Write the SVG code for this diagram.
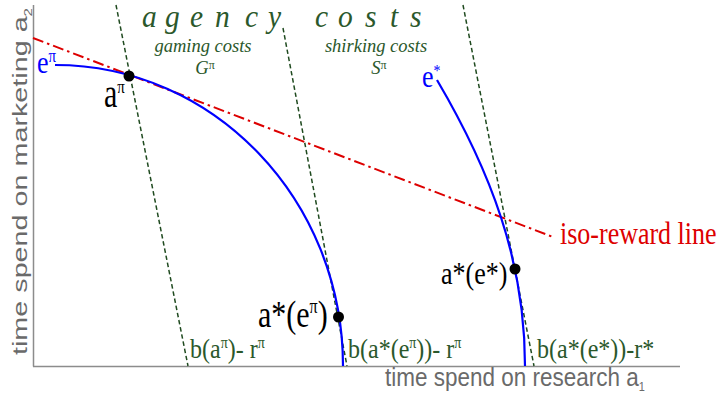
<svg xmlns="http://www.w3.org/2000/svg" width="719" height="394" viewBox="0 0 719 394">
<style>
.ax{stroke:#8c8c8c;stroke-width:1.5;fill:none}
.axl{fill:#6a6a6a}
.curve{stroke:#0000ff;stroke-width:2.2;fill:none}
.bud{stroke:#1f4a1f;stroke-width:1.5;stroke-dasharray:4.5 2.8;fill:none}
.iso{stroke:#dd0000;stroke-width:2;stroke-dasharray:11 4 2.5 4;fill:none}
.it{font-style:italic}
.g{fill:#2b582b}
.b{fill:#0000ff}
.k{fill:#000000}
.r{fill:#dd0000}
.dot{fill:#000000}
</style>
<rect width="719" height="394" fill="#ffffff"/>
<g id="axes">
  <line class="ax" x1="33.5" y1="5" x2="33.5" y2="366.5"/>
  <line class="ax" x1="33" y1="366.5" x2="680" y2="366.5"/>
  <text class="axl" font-family="Liberation Sans, Arial, sans-serif" font-size="21" transform="translate(27,355) rotate(-90)" textLength="347" lengthAdjust="spacingAndGlyphs">time spend on marketing a<tspan font-size="11" dy="5">2</tspan></text>
  <text class="axl" font-family="Liberation Sans, Arial, sans-serif" font-size="22.5" transform="translate(385,386) scale(1,1.15)">time spend on research a<tspan font-size="11" dy="4">1</tspan></text>
</g>
<g id="title" font-family="Liberation Serif, Times New Roman, serif">
  <text class="it g" font-size="29.5" transform="translate(0,27) scale(1,1.05)" x="142 165 190 215 245 268 292 315 338 365 390 410">agency costs</text>
  <text class="it g" font-size="18.5" text-anchor="middle" transform="translate(203,51.5) scale(1,1.02)">gaming costs</text>
  <text class="g" font-size="18.5" text-anchor="middle" transform="translate(205,74) scale(1,1.05)"><tspan class="it">G</tspan><tspan font-size="12" dy="-5">π</tspan></text>
  <text class="it g" font-size="18.5" text-anchor="middle" transform="translate(376,51.5) scale(1,1.02)">shirking costs</text>
  <text class="g" font-size="18.5" text-anchor="middle" transform="translate(379,74) scale(1,1.05)"><tspan class="it">S</tspan><tspan font-size="12" dy="-5">π</tspan></text>
</g>
<g id="connectors">
  <line id="budget-pi" class="bud" x1="116" y1="5" x2="188" y2="366"/>
  <line id="budget-a-star-pi" class="bud" x1="283" y1="28" x2="347" y2="366"/>
  <line id="budget-a-star-star" class="bud" x1="463" y1="5" x2="534" y2="366"/>
  <line id="iso-reward" class="iso" x1="33" y1="38" x2="553" y2="237"/>
</g>
<g id="curve-e-pi" font-family="Liberation Serif, Times New Roman, serif">
  <path class="curve" d="M55,65 C214,65 343,200 343,366"/>
  <text class="b" font-size="26" transform="translate(37,73) scale(1,1.2)">e<tspan font-size="15" dy="-9">π</tspan></text>
</g>
<g id="curve-e-star" font-family="Liberation Serif, Times New Roman, serif">
  <path class="curve" d="M437,80 C490,170 525,260 525,366"/>
  <text class="b" font-size="26" transform="translate(422,87) scale(1,1.2)">e<tspan font-size="14" dy="-9">*</tspan></text>
</g>
<g id="point-a-pi" font-family="Liberation Serif, Times New Roman, serif">
  <circle class="dot" cx="129" cy="76" r="5.5"/>
  <text class="k" font-size="30" transform="translate(104,107) scale(1,1.3)">a<tspan font-size="15" dy="-11">π</tspan></text>
</g>
<g id="point-a-star-e-pi" font-family="Liberation Serif, Times New Roman, serif">
  <circle class="dot" cx="338.5" cy="317" r="5.5"/>
  <text class="k" font-size="30" transform="translate(258,327) scale(1,1.25)">a*(e<tspan font-size="16" dy="-11">π</tspan><tspan dy="11">)</tspan></text>
</g>
<g id="point-a-star-e-star" font-family="Liberation Serif, Times New Roman, serif">
  <circle class="dot" cx="515" cy="269" r="5.5"/>
  <text class="k" font-size="26" transform="translate(441,284) scale(1,1.2)">a*(e*)</text>
</g>
<g id="labels" font-family="Liberation Serif, Times New Roman, serif">
  <text class="r" font-size="26" transform="translate(560,244) scale(1,1.2)">iso-reward line</text>
  <text class="g" font-size="24" transform="translate(190,358) scale(1,1.15)">b(a<tspan font-size="14" dy="-9">π</tspan><tspan dy="9">)- r</tspan><tspan font-size="14" dy="-9">π</tspan></text>
  <text class="g" font-size="24" transform="translate(348,358) scale(1,1.15)">b(a*(e<tspan font-size="14" dy="-9">π</tspan><tspan dy="9">))- r</tspan><tspan font-size="14" dy="-9">π</tspan></text>
  <text class="g" font-size="24" transform="translate(537,358) scale(1,1.15)">b(a*(e*))-r*</text>
</g>
</svg>
